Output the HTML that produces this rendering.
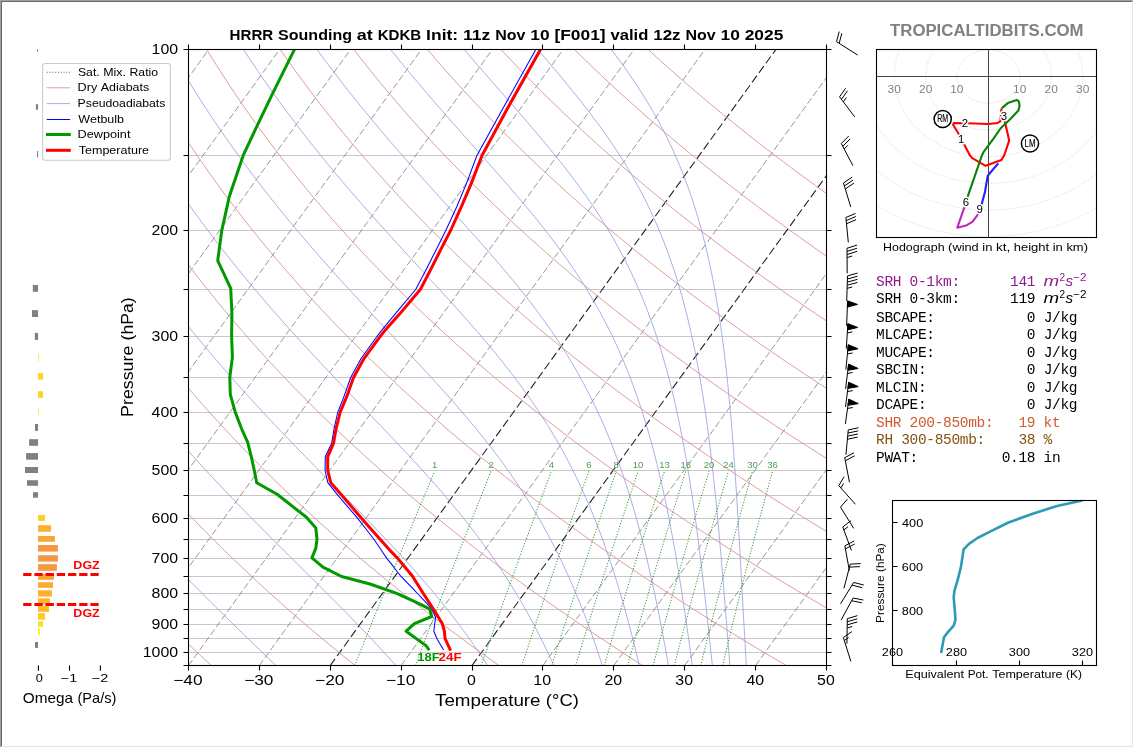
<!DOCTYPE html>
<html><head><meta charset="utf-8"><title>HRRR Sounding at KDKB</title>
<style>
html,body{margin:0;padding:0;background:#fff;overflow:hidden}
svg{display:block;will-change:transform;font-family:"Liberation Sans",sans-serif}
text{white-space:pre}
</style></head><body>
<svg width="1134" height="748" viewBox="0 0 1134 748">
<rect x="0" y="0" width="1134" height="748" fill="#fff"/>
<defs><clipPath id="cp"><rect x="188.5" y="49.5" width="638" height="616"/></clipPath>
<clipPath id="hc"><rect x="876.5" y="49.5" width="220" height="188"/></clipPath>
<clipPath id="tc"><rect x="892.5" y="500.5" width="204" height="165"/></clipPath></defs>
<g clip-path="url(#cp)" fill="none">
<path d="M188.5 155.5H826.5M188.5 230.5H826.5M188.5 289.5H826.5M188.5 336.5H826.5M188.5 377.5H826.5M188.5 412.5H826.5M188.5 443.5H826.5M188.5 470.5H826.5M188.5 495.5H826.5M188.5 518.5H826.5M188.5 539.5H826.5M188.5 558.5H826.5M188.5 576.5H826.5M188.5 593.5H826.5M188.5 609.5H826.5M188.5 624.5H826.5M188.5 638.5H826.5M188.5 652.5H826.5" stroke="#c8c8c8" stroke-width="1"/>
<path d="M-378.71 665.6L66.9 49.6M-307.82 665.6L137.79 49.6M-236.93 665.6L208.68 49.6M-166.04 665.6L279.57 49.6M-95.16 665.6L350.46 49.6M-24.27 665.6L421.35 49.6M46.62 665.6L492.24 49.6M117.51 665.6L563.13 49.6M188.4 665.6L634.01 49.6M259.29 665.6L704.9 49.6M401.07 665.6L846.68 49.6M542.84 665.6L988.46 49.6M613.73 665.6L1059.35 49.6M684.62 665.6L1130.24 49.6M755.51 665.6L1201.13 49.6M826.4 665.6L1272.01 49.6" stroke="#7c7c7c" stroke-width="0.8" stroke-dasharray="6.7 2.8"/>
<path d="M330.18 665.6L775.79 49.6M471.96 665.6L917.57 49.6" stroke="#222" stroke-width="1.1" stroke-dasharray="8.3 3.5"/>
<path d="M211.53 665.6 L200.17 655.16 L189.01 644.72 L178.07 634.28 L167.33 623.84 L156.8 613.4 L146.48 602.96 L136.36 592.52 L126.44 582.07 L116.71 571.63 L107.18 561.19 L97.84 550.75 L88.69 540.31 L79.74 529.87 L70.96 519.43 L62.38 508.99 L53.97 498.55 L45.75 488.11 L37.7 477.67 L29.83 467.23 L22.13 456.79 L14.61 446.35 L7.25 435.91 L0.07 425.46 L-6.95 415.02 L-13.81 404.58 L-20.5 394.14 L-27.03 383.7 L-33.41 373.26 L-39.62 362.82 L-45.68 352.38 L-51.59 341.94 L-57.34 331.5 L-62.95 321.06 L-68.4 310.62 L-73.71 300.18 L-78.87 289.74 L-83.89 279.29 L-88.77 268.85 L-93.51 258.41 L-98.11 247.97 L-102.57 237.53 L-106.9 227.09 L-111.09 216.65 L-115.15 206.21 L-119.07 195.77 L-122.87 185.33 L-126.54 174.89 L-130.09 164.45 L-133.51 154.01 L-136.8 143.57 L-139.97 133.13 L-143.02 122.68 L-145.95 112.24 L-148.77 101.8 L-151.46 91.36 L-154.04 80.92 L-156.51 70.48 L-158.86 60.04 L-161.1 49.6M355.3 665.6 L342.31 655.16 L329.55 644.72 L317.02 634.28 L304.71 623.84 L292.63 613.4 L280.77 602.96 L269.14 592.52 L257.71 582.07 L246.51 571.63 L235.51 561.19 L224.72 550.75 L214.15 540.31 L203.77 529.87 L193.6 519.43 L183.63 508.99 L173.85 498.55 L164.27 488.11 L154.89 477.67 L145.69 467.23 L136.69 456.79 L127.87 446.35 L119.24 435.91 L110.79 425.46 L102.52 415.02 L94.43 404.58 L86.51 394.14 L78.77 383.7 L71.2 373.26 L63.81 362.82 L56.58 352.38 L49.52 341.94 L42.62 331.5 L35.89 321.06 L29.32 310.62 L22.91 300.18 L16.65 289.74 L10.56 279.29 L4.61 268.85 L-1.18 258.41 L-6.82 247.97 L-12.31 237.53 L-17.66 227.09 L-22.86 216.65 L-27.91 206.21 L-32.83 195.77 L-37.6 185.33 L-42.23 174.89 L-46.73 164.45 L-51.09 154.01 L-55.31 143.57 L-59.41 133.13 L-63.37 122.68 L-67.2 112.24 L-70.9 101.8 L-74.47 91.36 L-77.92 80.92 L-81.25 70.48 L-84.45 60.04 L-87.53 49.6M499.06 665.6 L484.44 655.16 L470.08 644.72 L455.96 634.28 L442.09 623.84 L428.46 613.4 L415.07 602.96 L401.91 592.52 L388.99 582.07 L376.3 571.63 L363.84 561.19 L351.61 550.75 L339.6 540.31 L327.8 529.87 L316.23 519.43 L304.87 508.99 L293.73 498.55 L282.8 488.11 L272.08 477.67 L261.56 467.23 L251.25 456.79 L241.13 446.35 L231.22 435.91 L221.51 425.46 L211.99 415.02 L202.66 404.58 L193.52 394.14 L184.58 383.7 L175.81 373.26 L167.24 362.82 L158.84 352.38 L150.63 341.94 L142.59 331.5 L134.73 321.06 L127.04 310.62 L119.53 300.18 L112.18 289.74 L105 279.29 L97.99 268.85 L91.15 258.41 L84.46 247.97 L77.94 237.53 L71.58 227.09 L65.37 216.65 L59.32 206.21 L53.42 195.77 L47.67 185.33 L42.08 174.89 L36.63 164.45 L31.33 154.01 L26.17 143.57 L21.16 133.13 L16.29 122.68 L11.56 112.24 L6.97 101.8 L2.52 91.36 L-1.8 80.92 L-5.99 70.48 L-10.04 60.04 L-13.96 49.6M642.82 665.6 L626.58 655.16 L610.61 644.72 L594.91 634.28 L579.47 623.84 L564.29 613.4 L549.36 602.96 L534.69 592.52 L520.27 582.07 L506.1 571.63 L492.17 561.19 L478.49 550.75 L465.05 540.31 L451.84 529.87 L438.87 519.43 L426.12 508.99 L413.61 498.55 L401.33 488.11 L389.26 477.67 L377.42 467.23 L365.8 456.79 L354.4 446.35 L343.21 435.91 L332.23 425.46 L321.46 415.02 L310.9 404.58 L300.54 394.14 L290.38 383.7 L280.42 373.26 L270.67 362.82 L261.1 352.38 L251.73 341.94 L242.55 331.5 L233.56 321.06 L224.76 310.62 L216.14 300.18 L207.71 289.74 L199.45 279.29 L191.37 268.85 L183.47 258.41 L175.75 247.97 L168.19 237.53 L160.81 227.09 L153.6 216.65 L146.55 206.21 L139.67 195.77 L132.95 185.33 L126.39 174.89 L119.99 164.45 L113.75 154.01 L107.66 143.57 L101.73 133.13 L95.95 122.68 L90.32 112.24 L84.84 101.8 L79.51 91.36 L74.32 80.92 L69.27 70.48 L64.37 60.04 L59.61 49.6M786.58 665.6 L768.72 655.16 L751.15 644.72 L733.86 634.28 L716.85 623.84 L700.12 613.4 L683.66 602.96 L667.47 592.52 L651.55 582.07 L635.9 571.63 L620.51 561.19 L605.37 550.75 L590.5 540.31 L575.87 529.87 L561.5 519.43 L547.37 508.99 L533.49 498.55 L519.85 488.11 L506.45 477.67 L493.29 467.23 L480.36 456.79 L467.66 446.35 L455.19 435.91 L442.95 425.46 L430.93 415.02 L419.13 404.58 L407.55 394.14 L396.19 383.7 L385.03 373.26 L374.1 362.82 L363.36 352.38 L352.84 341.94 L342.52 331.5 L332.4 321.06 L322.48 310.62 L312.76 300.18 L303.23 289.74 L293.9 279.29 L284.76 268.85 L275.8 258.41 L267.03 247.97 L258.45 237.53 L250.05 227.09 L241.82 216.65 L233.78 206.21 L225.91 195.77 L218.22 185.33 L210.7 174.89 L203.35 164.45 L196.16 154.01 L189.15 143.57 L182.3 133.13 L175.61 122.68 L169.08 112.24 L162.71 101.8 L156.5 91.36 L150.44 80.92 L144.53 70.48 L138.78 60.04 L133.18 49.6M930.35 665.6 L910.86 655.16 L891.68 644.72 L872.81 634.28 L854.23 623.84 L835.94 613.4 L817.95 602.96 L800.25 592.52 L782.83 582.07 L765.69 571.63 L748.84 561.19 L732.26 550.75 L715.95 540.31 L699.91 529.87 L684.13 519.43 L668.62 508.99 L653.37 498.55 L638.38 488.11 L623.64 477.67 L609.16 467.23 L594.92 456.79 L580.93 446.35 L567.18 435.91 L553.67 425.46 L540.4 415.02 L527.37 404.58 L514.56 394.14 L501.99 383.7 L489.64 373.26 L477.52 362.82 L465.63 352.38 L453.95 341.94 L442.48 331.5 L431.24 321.06 L420.2 310.62 L409.38 300.18 L398.76 289.74 L388.35 279.29 L378.14 268.85 L368.13 258.41 L358.32 247.97 L348.7 237.53 L339.28 227.09 L330.05 216.65 L321.01 206.21 L312.16 195.77 L303.49 185.33 L295.01 174.89 L286.71 164.45 L278.58 154.01 L270.63 143.57 L262.86 133.13 L255.26 122.68 L247.84 112.24 L240.58 101.8 L233.48 91.36 L226.56 80.92 L219.8 70.48 L213.19 60.04 L206.75 49.6M1074.11 665.6 L1053 655.16 L1032.22 644.72 L1011.75 634.28 L991.61 623.84 L971.77 613.4 L952.25 602.96 L933.03 592.52 L914.11 582.07 L895.49 571.63 L877.17 561.19 L859.14 550.75 L841.4 540.31 L823.94 529.87 L806.77 519.43 L789.87 508.99 L773.25 498.55 L756.91 488.11 L740.83 477.67 L725.02 467.23 L709.47 456.79 L694.19 446.35 L679.16 435.91 L664.39 425.46 L649.87 415.02 L635.6 404.58 L621.58 394.14 L607.79 383.7 L594.25 373.26 L580.95 362.82 L567.89 352.38 L555.05 341.94 L542.45 331.5 L530.07 321.06 L517.92 310.62 L505.99 300.18 L494.29 289.74 L482.8 279.29 L471.52 268.85 L460.46 258.41 L449.6 247.97 L438.96 237.53 L428.52 227.09 L418.28 216.65 L408.24 206.21 L398.41 195.77 L388.77 185.33 L379.32 174.89 L370.06 164.45 L361 154.01 L352.12 143.57 L343.43 133.13 L334.92 122.68 L326.59 112.24 L318.45 101.8 L310.47 91.36 L302.68 80.92 L295.06 70.48 L287.61 60.04 L280.32 49.6M1217.87 665.6 L1195.14 655.16 L1172.75 644.72 L1150.7 634.28 L1128.99 623.84 L1107.6 613.4 L1086.54 602.96 L1065.81 592.52 L1045.39 582.07 L1025.29 571.63 L1005.5 561.19 L986.02 550.75 L966.85 540.31 L947.97 529.87 L929.4 519.43 L911.12 508.99 L893.13 498.55 L875.43 488.11 L858.02 477.67 L840.89 467.23 L824.03 456.79 L807.45 446.35 L791.15 435.91 L775.11 425.46 L759.34 415.02 L743.83 404.58 L728.59 394.14 L713.6 383.7 L698.86 373.26 L684.38 362.82 L670.15 352.38 L656.16 341.94 L642.42 331.5 L628.91 321.06 L615.64 310.62 L602.61 300.18 L589.81 289.74 L577.24 279.29 L564.9 268.85 L552.78 258.41 L540.89 247.97 L529.21 237.53 L517.75 227.09 L506.51 216.65 L495.48 206.21 L484.65 195.77 L474.04 185.33 L463.63 174.89 L453.42 164.45 L443.42 154.01 L433.61 143.57 L424 133.13 L414.58 122.68 L405.35 112.24 L396.31 101.8 L387.46 91.36 L378.8 80.92 L370.32 70.48 L362.02 60.04 L353.9 49.6M1361.63 665.6 L1337.28 655.16 L1313.29 644.72 L1289.65 634.28 L1266.37 623.84 L1243.43 613.4 L1220.84 602.96 L1198.58 592.52 L1176.67 582.07 L1155.09 571.63 L1133.83 561.19 L1112.9 550.75 L1092.3 540.31 L1072.01 529.87 L1052.03 519.43 L1032.37 508.99 L1013.01 498.55 L993.96 488.11 L975.21 477.67 L956.75 467.23 L938.59 456.79 L920.72 446.35 L903.13 435.91 L885.83 425.46 L868.81 415.02 L852.07 404.58 L835.6 394.14 L819.4 383.7 L803.48 373.26 L787.81 362.82 L772.41 352.38 L757.27 341.94 L742.38 331.5 L727.75 321.06 L713.36 310.62 L699.23 300.18 L685.34 289.74 L671.69 279.29 L658.28 268.85 L645.11 258.41 L632.17 247.97 L619.47 237.53 L606.99 227.09 L594.74 216.65 L582.71 206.21 L570.9 195.77 L559.31 185.33 L547.94 174.89 L536.78 164.45 L525.83 154.01 L515.1 143.57 L504.56 133.13 L494.24 122.68 L484.11 112.24 L474.18 101.8 L464.45 91.36 L454.92 80.92 L445.58 70.48 L436.43 60.04 L427.47 49.6M1505.4 665.6 L1479.42 655.16 L1453.82 644.72 L1428.6 634.28 L1403.74 623.84 L1379.26 613.4 L1355.13 602.96 L1331.36 592.52 L1307.95 582.07 L1284.88 571.63 L1262.16 561.19 L1239.79 550.75 L1217.75 540.31 L1196.04 529.87 L1174.67 519.43 L1153.62 508.99 L1132.89 498.55 L1112.49 488.11 L1092.39 477.67 L1072.62 467.23 L1053.15 456.79 L1033.98 446.35 L1015.12 435.91 L996.55 425.46 L978.28 415.02 L960.3 404.58 L942.61 394.14 L925.21 383.7 L908.09 373.26 L891.24 362.82 L874.67 352.38 L858.37 341.94 L842.35 331.5 L826.58 321.06 L811.09 310.62 L795.85 300.18 L780.87 289.74 L766.14 279.29 L751.66 268.85 L737.44 258.41 L723.46 247.97 L709.72 237.53 L696.22 227.09 L682.96 216.65 L669.94 206.21 L657.15 195.77 L644.59 185.33 L632.25 174.89 L620.14 164.45 L608.25 154.01 L596.58 143.57 L585.13 133.13 L573.89 122.68 L562.87 112.24 L552.05 101.8 L541.44 91.36 L531.04 80.92 L520.84 70.48 L510.84 60.04 L501.04 49.6M1649.16 665.6 L1621.56 655.16 L1594.36 644.72 L1567.55 634.28 L1541.12 623.84 L1515.08 613.4 L1489.43 602.96 L1464.14 592.52 L1439.23 582.07 L1414.68 571.63 L1390.5 561.19 L1366.67 550.75 L1343.2 540.31 L1320.08 529.87 L1297.3 519.43 L1274.87 508.99 L1252.77 498.55 L1231.01 488.11 L1209.58 477.67 L1188.48 467.23 L1167.7 456.79 L1147.25 446.35 L1127.1 435.91 L1107.27 425.46 L1087.75 415.02 L1068.54 404.58 L1049.63 394.14 L1031.01 383.7 L1012.7 373.26 L994.67 362.82 L976.93 352.38 L959.48 341.94 L942.31 331.5 L925.42 321.06 L908.81 310.62 L892.46 300.18 L876.39 289.74 L860.59 279.29 L845.05 268.85 L829.77 258.41 L814.74 247.97 L799.98 237.53 L785.46 227.09 L771.19 216.65 L757.17 206.21 L743.4 195.77 L729.86 185.33 L716.56 174.89 L703.5 164.45 L690.67 154.01 L678.07 143.57 L665.7 133.13 L653.55 122.68 L641.63 112.24 L629.92 101.8 L618.43 91.36 L607.16 80.92 L596.1 70.48 L585.25 60.04 L574.61 49.6M1792.92 665.6 L1763.7 655.16 L1734.89 644.72 L1706.49 634.28 L1678.5 623.84 L1650.91 613.4 L1623.72 602.96 L1596.92 592.52 L1570.51 582.07 L1544.48 571.63 L1518.83 561.19 L1493.55 550.75 L1468.65 540.31 L1444.11 529.87 L1419.93 519.43 L1396.12 508.99 L1372.65 498.55 L1349.54 488.11 L1326.77 477.67 L1304.35 467.23 L1282.26 456.79 L1260.51 446.35 L1239.09 435.91 L1217.99 425.46 L1197.22 415.02 L1176.77 404.58 L1156.64 394.14 L1136.82 383.7 L1117.31 373.26 L1098.1 362.82 L1079.19 352.38 L1060.59 341.94 L1042.28 331.5 L1024.26 321.06 L1006.53 310.62 L989.08 300.18 L971.92 289.74 L955.04 279.29 L938.43 268.85 L922.09 258.41 L906.03 247.97 L890.23 237.53 L874.69 227.09 L859.42 216.65 L844.4 206.21 L829.64 195.77 L815.13 185.33 L800.87 174.89 L786.86 164.45 L773.09 154.01 L759.56 143.57 L746.26 133.13 L733.21 122.68 L720.38 112.24 L707.79 101.8 L695.42 91.36 L683.28 80.92 L671.36 70.48 L659.66 60.04 L648.18 49.6" stroke="#db9292" stroke-width="0.9"/>
<path d="M276.04 665.6 L265.2 655.16 L254.37 644.72 L243.57 634.28 L232.83 623.84 L222.17 613.4 L211.6 602.96 L201.14 592.52 L190.81 582.07 L180.62 571.63 L170.57 561.19 L160.68 550.75 L150.96 540.31 L141.4 529.87 L132.01 519.43 L122.8 508.99 L113.76 498.55 L104.89 488.11 L96.21 477.67 L87.7 467.23 L79.36 456.79 L71.2 446.35 L63.22 435.91 L55.41 425.46 L47.77 415.02 L40.3 404.58 L33 394.14 L25.86 383.7 L18.9 373.26 L12.09 362.82 L5.45 352.38 L-1.03 341.94 L-7.36 331.5 L-13.53 321.06 L-19.54 310.62 L-25.4 300.18 L-31.11 289.74 L-36.67 279.29 L-42.08 268.85 L-47.34 258.41 L-52.46 247.97 L-57.44 237.53 L-62.28 227.09 L-66.97 216.65 L-71.53 206.21 L-75.95 195.77 L-80.24 185.33 L-84.39 174.89 L-88.41 164.45 L-92.3 154.01 L-96.06 143.57 L-99.69 133.13 L-103.19 122.68 L-106.58 112.24 L-109.83 101.8 L-112.97 91.36 L-115.98 80.92 L-118.88 70.48 L-121.66 60.04 L-124.32 49.6M395.97 665.6 L386.56 655.16 L376.92 644.72 L367.08 634.28 L357.05 623.84 L346.86 613.4 L336.54 602.96 L326.13 592.52 L315.64 582.07 L305.11 571.63 L294.57 561.19 L284.05 550.75 L273.57 540.31 L263.16 529.87 L252.83 519.43 L242.61 508.99 L232.5 498.55 L222.53 488.11 L212.7 477.67 L203.03 467.23 L193.51 456.79 L184.15 446.35 L174.96 435.91 L165.94 425.46 L157.1 415.02 L148.43 404.58 L139.93 394.14 L131.61 383.7 L123.46 373.26 L115.49 362.82 L107.69 352.38 L100.06 341.94 L92.59 331.5 L85.3 321.06 L78.17 310.62 L71.21 300.18 L64.41 289.74 L57.78 279.29 L51.3 268.85 L44.98 258.41 L38.82 247.97 L32.81 237.53 L26.96 227.09 L21.25 216.65 L15.7 206.21 L10.3 195.77 L5.04 185.33 L-0.08 174.89 L-5.05 164.45 L-9.88 154.01 L-14.57 143.57 L-19.12 133.13 L-23.54 122.68 L-27.82 112.24 L-31.96 101.8 L-35.98 91.36 L-39.86 80.92 L-43.62 70.48 L-47.25 60.04 L-50.75 49.6M487.73 665.6 L480.83 655.16 L473.65 644.72 L466.2 634.28 L458.46 623.84 L450.44 613.4 L442.13 602.96 L433.55 592.52 L424.7 582.07 L415.59 571.63 L406.24 561.19 L396.68 550.75 L386.92 540.31 L377 529.87 L366.95 519.43 L356.79 508.99 L346.57 498.55 L336.3 488.11 L326.03 477.67 L315.77 467.23 L305.57 456.79 L295.42 446.35 L285.37 435.91 L275.43 425.46 L265.6 415.02 L255.91 404.58 L246.36 394.14 L236.97 383.7 L227.73 373.26 L218.65 362.82 L209.75 352.38 L201.01 341.94 L192.45 331.5 L184.05 321.06 L175.83 310.62 L167.78 300.18 L159.91 289.74 L152.2 279.29 L144.66 268.85 L137.3 258.41 L130.1 247.97 L123.06 237.53 L116.19 227.09 L109.48 216.65 L102.93 206.21 L96.54 195.77 L90.31 185.33 L84.23 174.89 L78.31 164.45 L72.54 154.01 L66.92 143.57 L61.44 133.13 L56.12 122.68 L50.94 112.24 L45.9 101.8 L41.01 91.36 L36.26 80.92 L31.64 70.48 L27.17 60.04 L22.82 49.6M553.89 665.6 L549.08 655.16 L544.06 644.72 L538.84 634.28 L533.4 623.84 L527.73 613.4 L521.81 602.96 L515.63 592.52 L509.19 582.07 L502.47 571.63 L495.46 561.19 L488.16 550.75 L480.56 540.31 L472.67 529.87 L464.49 519.43 L456.02 508.99 L447.29 498.55 L438.29 488.11 L429.07 477.67 L419.63 467.23 L410.02 456.79 L400.25 446.35 L390.37 435.91 L380.4 425.46 L370.39 415.02 L360.35 404.58 L350.32 394.14 L340.33 383.7 L330.4 373.26 L320.56 362.82 L310.81 352.38 L301.18 341.94 L291.69 331.5 L282.33 321.06 L273.12 310.62 L264.07 300.18 L255.19 289.74 L246.46 279.29 L237.91 268.85 L229.52 258.41 L221.3 247.97 L213.26 237.53 L205.38 227.09 L197.68 216.65 L190.14 206.21 L182.77 195.77 L175.57 185.33 L168.53 174.89 L161.66 164.45 L154.95 154.01 L148.4 143.57 L142.01 133.13 L135.78 122.68 L129.7 112.24 L123.77 101.8 L118 91.36 L112.38 80.92 L106.9 70.48 L101.58 60.04 L96.4 49.6M602.37 665.6 L598.96 655.16 L595.42 644.72 L591.76 634.28 L587.95 623.84 L583.99 613.4 L579.86 602.96 L575.56 592.52 L571.07 582.07 L566.39 571.63 L561.49 561.19 L556.36 550.75 L550.99 540.31 L545.37 529.87 L539.49 519.43 L533.33 508.99 L526.89 498.55 L520.15 488.11 L513.1 477.67 L505.76 467.23 L498.11 456.79 L490.15 446.35 L481.91 435.91 L473.39 425.46 L464.6 415.02 L455.58 404.58 L446.35 394.14 L436.93 383.7 L427.36 373.26 L417.68 362.82 L407.92 352.38 L398.11 341.94 L388.29 331.5 L378.48 321.06 L368.71 310.62 L359 300.18 L349.39 289.74 L339.88 279.29 L330.49 268.85 L321.23 258.41 L312.12 247.97 L303.15 237.53 L294.35 227.09 L285.7 216.65 L277.22 206.21 L268.91 195.77 L260.76 185.33 L252.78 174.89 L244.98 164.45 L237.34 154.01 L229.87 143.57 L222.56 133.13 L215.42 122.68 L208.45 112.24 L201.64 101.8 L194.99 91.36 L188.5 80.92 L182.16 70.48 L175.99 60.04 L169.97 49.6M639.29 665.6 L636.8 655.16 L634.24 644.72 L631.6 634.28 L628.88 623.84 L626.05 613.4 L623.13 602.96 L620.1 592.52 L616.95 582.07 L613.67 571.63 L610.25 561.19 L606.68 550.75 L602.95 540.31 L599.05 529.87 L594.96 519.43 L590.68 508.99 L586.19 498.55 L581.47 488.11 L576.52 477.67 L571.31 467.23 L565.84 456.79 L560.1 446.35 L554.06 435.91 L547.73 425.46 L541.09 415.02 L534.14 404.58 L526.87 394.14 L519.3 383.7 L511.42 373.26 L503.24 362.82 L494.79 352.38 L486.08 341.94 L477.14 331.5 L468 321.06 L458.69 310.62 L449.25 300.18 L439.71 289.74 L430.11 279.29 L420.48 268.85 L410.85 258.41 L401.26 247.97 L391.72 237.53 L382.26 227.09 L372.91 216.65 L363.66 206.21 L354.55 195.77 L345.57 185.33 L336.75 174.89 L328.07 164.45 L319.56 154.01 L311.21 143.57 L303.02 133.13 L295.01 122.68 L287.15 112.24 L279.47 101.8 L271.95 91.36 L264.6 80.92 L257.42 70.48 L250.4 60.04 L243.54 49.6M668.47 665.6 L666.61 655.16 L664.71 644.72 L662.77 634.28 L660.77 623.84 L658.71 613.4 L656.6 602.96 L654.42 592.52 L652.16 582.07 L649.82 571.63 L647.4 561.19 L644.88 550.75 L642.26 540.31 L639.53 529.87 L636.68 519.43 L633.7 508.99 L630.59 498.55 L627.32 488.11 L623.89 477.67 L620.29 467.23 L616.51 456.79 L612.52 446.35 L608.33 435.91 L603.9 425.46 L599.24 415.02 L594.33 404.58 L589.14 394.14 L583.68 383.7 L577.92 373.26 L571.86 362.82 L565.48 352.38 L558.79 341.94 L551.77 331.5 L544.43 321.06 L536.78 310.62 L528.83 300.18 L520.59 289.74 L512.08 279.29 L503.34 268.85 L494.39 258.41 L485.27 247.97 L476.02 237.53 L466.66 227.09 L457.23 216.65 L447.78 206.21 L438.33 195.77 L428.91 185.33 L419.55 174.89 L410.27 164.45 L401.09 154.01 L392.03 143.57 L383.09 133.13 L374.3 122.68 L365.65 112.24 L357.15 101.8 L348.82 91.36 L340.64 80.92 L332.63 70.48 L324.79 60.04 L317.11 49.6M692.28 665.6 L690.87 655.16 L689.44 644.72 L687.98 634.28 L686.49 623.84 L684.97 613.4 L683.42 602.96 L681.83 592.52 L680.19 582.07 L678.5 571.63 L676.77 561.19 L674.97 550.75 L673.11 540.31 L671.18 529.87 L669.17 519.43 L667.09 508.99 L664.91 498.55 L662.63 488.11 L660.26 477.67 L657.76 467.23 L655.15 456.79 L652.4 446.35 L649.51 435.91 L646.47 425.46 L643.26 415.02 L639.88 404.58 L636.3 394.14 L632.52 383.7 L628.53 373.26 L624.3 362.82 L619.82 352.38 L615.09 341.94 L610.07 331.5 L604.77 321.06 L599.17 310.62 L593.25 300.18 L587.01 289.74 L580.45 279.29 L573.55 268.85 L566.33 258.41 L558.79 247.97 L550.94 237.53 L542.81 227.09 L534.41 216.65 L525.78 206.21 L516.95 195.77 L507.95 185.33 L498.83 174.89 L489.61 164.45 L480.34 154.01 L471.04 143.57 L461.76 133.13 L452.52 122.68 L443.35 112.24 L434.27 101.8 L425.29 91.36 L416.43 80.92 L407.7 70.48 L399.12 60.04 L390.68 49.6M712.33 665.6 L711.24 655.16 L710.15 644.72 L709.05 634.28 L707.94 623.84 L706.81 613.4 L705.66 602.96 L704.5 592.52 L703.31 582.07 L702.09 571.63 L700.84 561.19 L699.56 550.75 L698.24 540.31 L696.88 529.87 L695.47 519.43 L694 508.99 L692.49 498.55 L690.91 488.11 L689.26 477.67 L687.55 467.23 L685.75 456.79 L683.86 446.35 L681.89 435.91 L679.81 425.46 L677.62 415.02 L675.31 404.58 L672.88 394.14 L670.3 383.7 L667.58 373.26 L664.7 362.82 L661.65 352.38 L658.41 341.94 L654.97 331.5 L651.32 321.06 L647.45 310.62 L643.33 300.18 L638.95 289.74 L634.3 279.29 L629.37 268.85 L624.13 258.41 L618.58 247.97 L612.71 237.53 L606.51 227.09 L599.97 216.65 L593.09 206.21 L585.89 195.77 L578.36 185.33 L570.53 174.89 L562.42 164.45 L554.06 154.01 L545.48 143.57 L536.71 133.13 L527.79 122.68 L518.76 112.24 L509.66 101.8 L500.52 91.36 L491.38 80.92 L482.28 70.48 L473.22 60.04 L464.25 49.6M729.89 665.6 L729.06 655.16 L728.24 644.72 L727.41 634.28 L726.58 623.84 L725.76 613.4 L724.92 602.96 L724.08 592.52 L723.23 582.07 L722.36 571.63 L721.48 561.19 L720.59 550.75 L719.67 540.31 L718.73 529.87 L717.77 519.43 L716.77 508.99 L715.74 498.55 L714.67 488.11 L713.56 477.67 L712.41 467.23 L711.21 456.79 L709.95 446.35 L708.63 435.91 L707.25 425.46 L705.79 415.02 L704.26 404.58 L702.65 394.14 L700.94 383.7 L699.14 373.26 L697.23 362.82 L695.2 352.38 L693.05 341.94 L690.76 331.5 L688.33 321.06 L685.75 310.62 L682.99 300.18 L680.06 289.74 L676.93 279.29 L673.59 268.85 L670.03 258.41 L666.23 247.97 L662.18 237.53 L657.85 227.09 L653.24 216.65 L648.34 206.21 L643.11 195.77 L637.57 185.33 L631.69 174.89 L625.46 164.45 L618.9 154.01 L612 143.57 L604.76 133.13 L597.21 122.68 L589.36 112.24 L581.24 101.8 L572.89 91.36 L564.33 80.92 L555.61 70.48 L546.76 60.04 L537.82 49.6M746.33 665.6 L745.72 655.16 L745.11 644.72 L744.51 634.28 L743.93 623.84 L743.34 613.4 L742.76 602.96 L742.19 592.52 L741.61 582.07 L741.04 571.63 L740.46 561.19 L739.87 550.75 L739.28 540.31 L738.68 529.87 L738.07 519.43 L737.44 508.99 L736.8 498.55 L736.14 488.11 L735.45 477.67 L734.74 467.23 L734 456.79 L733.23 446.35 L732.43 435.91 L731.58 425.46 L730.7 415.02 L729.76 404.58 L728.77 394.14 L727.73 383.7 L726.62 373.26 L725.45 362.82 L724.2 352.38 L722.87 341.94 L721.45 331.5 L719.95 321.06 L718.33 310.62 L716.61 300.18 L714.77 289.74 L712.81 279.29 L710.7 268.85 L708.44 258.41 L706.03 247.97 L703.43 237.53 L700.65 227.09 L697.67 216.65 L694.48 206.21 L691.05 195.77 L687.38 185.33 L683.44 174.89 L679.23 164.45 L674.72 154.01 L669.9 143.57 L664.75 133.13 L659.28 122.68 L653.45 112.24 L647.28 101.8 L640.77 91.36 L633.9 80.92 L626.71 70.48 L619.2 60.04 L611.4 49.6" stroke="#9e9ee4" stroke-width="0.85"/>
<path d="M354.66 665.6 L370.9 625.22 L390.37 577.45 L414.59 519 L434.67 471.23M415.57 665.6 L430.81 625.22 L449.13 577.45 L471.99 519 L491 471.23M481.11 665.6 L495.24 625.22 L512.28 577.45 L533.62 519 L551.44 471.23M521.76 665.6 L535.17 625.22 L551.4 577.45 L571.77 519 L588.82 471.23M551.67 665.6 L564.55 625.22 L580.17 577.45 L599.81 519 L616.29 471.23M575.5 665.6 L587.95 625.22 L603.07 577.45 L622.13 519 L638.14 471.23M604.22 665.6 L616.14 625.22 L630.65 577.45 L649 519 L664.45 471.23M627.49 665.6 L638.98 625.22 L652.99 577.45 L670.75 519 L685.74 471.23M653.01 665.6 L664.01 625.22 L677.47 577.45 L694.58 519 L709.06 471.23M674.24 665.6 L684.84 625.22 L697.84 577.45 L714.4 519 L728.44 471.23M700.68 665.6 L710.77 625.22 L723.18 577.45 L739.05 519 L752.55 471.23M722.62 665.6 L732.28 625.22 L744.2 577.45 L759.49 519 L772.53 471.23" stroke="#2f8f2f" stroke-width="1.05" stroke-dasharray="1.05 1.75"/>
<path d="M535.8 49.4 L503.2 107.9 L476.9 155.5 L466.6 183.1 L457 206.2 L445.8 230.5 L436.6 248.9 L425.8 270.2 L415.7 289.5 L394.6 314.6 L380.6 331.6 L376.4 337.3 L361.2 358.3 L350.6 377.8 L344.2 395.9 L337.7 412.5 L334.1 428.6 L331.6 443.4 L325.3 456.4 L325.1 470.5 L327.8 482.6 L338.2 495.6 L357.7 518.4 L366 529 L373.9 539.3 L381.2 550 L386.8 558.4 L393.1 566.2 L400.8 576.2 L414.4 590.2 L417.4 593.5 L430.4 607.1 L435.6 617.1 L433.8 631.2 L437.1 639 L443.6 650.1" stroke="#0000ff" stroke-width="1.05" stroke-linejoin="round"/>
<path d="M294.5 49.4 L272.8 93.2 L256.7 126.6 L243.2 155.4 L229.4 196.2 L221.8 230.4 L217.7 260.6 L230.7 288.3 L231.9 312.7 L231.6 336.3 L232.4 357.1 L229.8 377.2 L230.3 394.4 L235.3 412.4 L241.5 428.5 L247.8 442.7 L251.5 457.6 L254.4 471 L256.7 482.7 L277.1 494.2 L306.4 517.3 L315.8 528 L317 539 L315.8 548.4 L311.9 557.9 L322.9 567.1 L341.6 576.5 L370 584 L396.7 593.4 L415.3 601.8 L429.6 608.9 L431.7 616.5 L414.4 623.6 L406.1 631.2 L426 645.6 L429.3 650.1" stroke="#009900" stroke-width="3" stroke-linejoin="round"/>
<path d="M540.5 49.4 L507.7 107.9 L482 155.5 L471.4 183.1 L461.6 206.2 L450.6 230.5 L441.1 248.9 L430.4 270.2 L420.3 289.5 L399.1 314.6 L384 331.6 L379.5 337.3 L364.1 358.3 L353.4 377.8 L347 395.9 L340.1 412.5 L336.1 428.6 L333.5 443.4 L327.7 456.7 L327.7 470.5 L330.8 482.7 L342 495.6 L361.7 518.4 L370.9 528.9 L380.1 539.3 L389.4 549.7 L397.7 558.4 L412.5 576.3 L423.3 593.5 L433.7 609.6 L442.1 623.2 L444.4 631.2 L445 638.4 L450.6 650.6" stroke="#ff0000" stroke-width="3" stroke-linejoin="round"/>
</g>
<text x="432.02" y="467.9" font-size="8.5" fill="#4a9f4a" textLength="5.3" lengthAdjust="spacingAndGlyphs">1</text>
<text x="488.35" y="467.9" font-size="8.5" fill="#4a9f4a" textLength="5.3" lengthAdjust="spacingAndGlyphs">2</text>
<text x="548.79" y="467.9" font-size="8.5" fill="#4a9f4a" textLength="5.3" lengthAdjust="spacingAndGlyphs">4</text>
<text x="586.17" y="467.9" font-size="8.5" fill="#4a9f4a" textLength="5.3" lengthAdjust="spacingAndGlyphs">6</text>
<text x="613.64" y="467.9" font-size="8.5" fill="#4a9f4a" textLength="5.3" lengthAdjust="spacingAndGlyphs">8</text>
<text x="632.84" y="467.9" font-size="8.5" fill="#4a9f4a" textLength="10.6" lengthAdjust="spacingAndGlyphs">10</text>
<text x="659.15" y="467.9" font-size="8.5" fill="#4a9f4a" textLength="10.6" lengthAdjust="spacingAndGlyphs">13</text>
<text x="680.44" y="467.9" font-size="8.5" fill="#4a9f4a" textLength="10.6" lengthAdjust="spacingAndGlyphs">16</text>
<text x="703.76" y="467.9" font-size="8.5" fill="#4a9f4a" textLength="10.6" lengthAdjust="spacingAndGlyphs">20</text>
<text x="723.14" y="467.9" font-size="8.5" fill="#4a9f4a" textLength="10.6" lengthAdjust="spacingAndGlyphs">24</text>
<text x="747.25" y="467.9" font-size="8.5" fill="#4a9f4a" textLength="10.6" lengthAdjust="spacingAndGlyphs">30</text>
<text x="767.23" y="467.9" font-size="8.5" fill="#4a9f4a" textLength="10.6" lengthAdjust="spacingAndGlyphs">36</text>
<text x="417.2" y="660.7" font-size="11.3" font-weight="bold" fill="#009900" textLength="22.5" lengthAdjust="spacingAndGlyphs">18F</text>
<text x="438.6" y="660.7" font-size="11.3" font-weight="bold" fill="#ff0000" textLength="23" lengthAdjust="spacingAndGlyphs">24F</text>
<path d="M188.5 665.5v5M188.5 49.5v-5M259.5 665.5v5M259.5 49.5v-5M330.5 665.5v5M330.5 49.5v-5M401.5 665.5v5M401.5 49.5v-5M472.5 665.5v5M472.5 49.5v-5M542.5 665.5v5M542.5 49.5v-5M613.5 665.5v5M613.5 49.5v-5M684.5 665.5v5M684.5 49.5v-5M755.5 665.5v5M755.5 49.5v-5M826.5 665.5v5M826.5 49.5v-5M188.5 49.5h-5M826.5 49.5h5M188.5 155.5h-5M826.5 155.5h5M188.5 230.5h-5M826.5 230.5h5M188.5 289.5h-5M826.5 289.5h5M188.5 336.5h-5M826.5 336.5h5M188.5 377.5h-5M826.5 377.5h5M188.5 412.5h-5M826.5 412.5h5M188.5 443.5h-5M826.5 443.5h5M188.5 470.5h-5M826.5 470.5h5M188.5 495.5h-5M826.5 495.5h5M188.5 518.5h-5M826.5 518.5h5M188.5 539.5h-5M826.5 539.5h5M188.5 558.5h-5M826.5 558.5h5M188.5 576.5h-5M826.5 576.5h5M188.5 593.5h-5M826.5 593.5h5M188.5 609.5h-5M826.5 609.5h5M188.5 624.5h-5M826.5 624.5h5M188.5 638.5h-5M826.5 638.5h5M188.5 652.5h-5M826.5 652.5h5M188.5 665.5h-5M826.5 665.5h5" stroke="#000" stroke-width="1.1" fill="none"/>
<rect x="188.5" y="49.5" width="638" height="616" fill="none" stroke="#000" stroke-width="1.1"/>
<text y="39.8" font-size="14.31" font-weight="bold" fill="#000"><tspan x="229.59" textLength="43.71" lengthAdjust="spacingAndGlyphs">HRRR</tspan> <tspan x="278.13" textLength="73.85" lengthAdjust="spacingAndGlyphs">Sounding</tspan> <tspan x="356.82" textLength="16.01" lengthAdjust="spacingAndGlyphs">at</tspan> <tspan x="377.67" textLength="43.64" lengthAdjust="spacingAndGlyphs">KDKB</tspan> <tspan x="426.14" textLength="32.01" lengthAdjust="spacingAndGlyphs">Init:</tspan> <tspan x="462.99" textLength="27.41" lengthAdjust="spacingAndGlyphs">11z</tspan> <tspan x="495.23" textLength="30.22" lengthAdjust="spacingAndGlyphs">Nov</tspan> <tspan x="530.29" textLength="19.33" lengthAdjust="spacingAndGlyphs">10</tspan> <tspan x="554.45" textLength="51.17" lengthAdjust="spacingAndGlyphs">[F001]</tspan> <tspan x="610.46" textLength="37.89" lengthAdjust="spacingAndGlyphs">valid</tspan> <tspan x="653.19" textLength="27.41" lengthAdjust="spacingAndGlyphs">12z</tspan> <tspan x="685.43" textLength="30.22" lengthAdjust="spacingAndGlyphs">Nov</tspan> <tspan x="720.49" textLength="19.33" lengthAdjust="spacingAndGlyphs">10</tspan> <tspan x="744.65" textLength="38.66" lengthAdjust="spacingAndGlyphs">2025</tspan></text>
<text y="35.8" font-size="15.74" font-weight="bold" fill="#808080"><tspan x="890.04" textLength="193.49" lengthAdjust="spacingAndGlyphs">TROPICALTIDBITS.COM</tspan></text>
<text y="705.6" font-size="17.17" fill="#000"><tspan x="435.02" textLength="105.56" lengthAdjust="spacingAndGlyphs">Temperature</tspan> <tspan x="545.88" textLength="32.98" lengthAdjust="spacingAndGlyphs">(°C)</tspan></text>
<text transform="translate(133.4 714) rotate(-90)" y="0" font-size="17.17" fill="#000"><tspan x="297.13" textLength="71.15" lengthAdjust="spacingAndGlyphs">Pressure</tspan> <tspan x="373.58" textLength="43.08" lengthAdjust="spacingAndGlyphs">(hPa)</tspan></text>
<text y="685.1" font-size="14.31" fill="#000"><tspan x="173.27" textLength="29.31" lengthAdjust="spacingAndGlyphs">−40</tspan></text>
<text y="685.1" font-size="14.31" fill="#000"><tspan x="244.16" textLength="29.31" lengthAdjust="spacingAndGlyphs">−30</tspan></text>
<text y="685.1" font-size="14.31" fill="#000"><tspan x="315.05" textLength="29.31" lengthAdjust="spacingAndGlyphs">−20</tspan></text>
<text y="685.1" font-size="14.31" fill="#000"><tspan x="385.94" textLength="29.31" lengthAdjust="spacingAndGlyphs">−10</tspan></text>
<text y="685.1" font-size="14.31" fill="#000"><tspan x="467.14" textLength="8.84" lengthAdjust="spacingAndGlyphs">0</tspan></text>
<text y="685.1" font-size="14.31" fill="#000"><tspan x="533.31" textLength="17.67" lengthAdjust="spacingAndGlyphs">10</tspan></text>
<text y="685.1" font-size="14.31" fill="#000"><tspan x="604.45" textLength="17.67" lengthAdjust="spacingAndGlyphs">20</tspan></text>
<text y="685.1" font-size="14.31" fill="#000"><tspan x="675.32" textLength="17.67" lengthAdjust="spacingAndGlyphs">30</tspan></text>
<text y="685.1" font-size="14.31" fill="#000"><tspan x="746.4" textLength="17.67" lengthAdjust="spacingAndGlyphs">40</tspan></text>
<text y="685.1" font-size="14.31" fill="#000"><tspan x="817.09" textLength="17.67" lengthAdjust="spacingAndGlyphs">50</tspan></text>
<text y="54.4" font-size="14.31" fill="#000"><tspan x="151.61" textLength="26.51" lengthAdjust="spacingAndGlyphs">100</tspan></text>
<text y="235.4" font-size="14.31" fill="#000"><tspan x="151.61" textLength="26.51" lengthAdjust="spacingAndGlyphs">200</tspan></text>
<text y="341.4" font-size="14.31" fill="#000"><tspan x="151.61" textLength="26.51" lengthAdjust="spacingAndGlyphs">300</tspan></text>
<text y="417.4" font-size="14.31" fill="#000"><tspan x="151.61" textLength="26.51" lengthAdjust="spacingAndGlyphs">400</tspan></text>
<text y="475.4" font-size="14.31" fill="#000"><tspan x="151.61" textLength="26.51" lengthAdjust="spacingAndGlyphs">500</tspan></text>
<text y="523.4" font-size="14.31" fill="#000"><tspan x="151.61" textLength="26.51" lengthAdjust="spacingAndGlyphs">600</tspan></text>
<text y="563.4" font-size="14.31" fill="#000"><tspan x="151.61" textLength="26.51" lengthAdjust="spacingAndGlyphs">700</tspan></text>
<text y="598.4" font-size="14.31" fill="#000"><tspan x="151.61" textLength="26.51" lengthAdjust="spacingAndGlyphs">800</tspan></text>
<text y="629.4" font-size="14.31" fill="#000"><tspan x="151.61" textLength="26.51" lengthAdjust="spacingAndGlyphs">900</tspan></text>
<text y="657.4" font-size="14.31" fill="#000"><tspan x="142.78" textLength="35.35" lengthAdjust="spacingAndGlyphs">1000</tspan></text>
<path d="M857.67 55.02 L836.53 41.68M836.53 41.68 L839.22 31.56M839.17 43.35 L841.86 33.22M854.66 116.77 L839.54 96.85M839.54 96.85 L845.62 88.32M841.43 99.34 L847.51 90.81M843.32 101.83 L846.36 97.56M852.91 165.64 L841.29 143.51M841.29 143.51 L848.69 136.09M842.74 146.27 L850.14 138.85M844.19 149.04 L847.89 145.33M850.73 206.92 L843.47 182.99M843.47 182.99 L852.13 177.1M844.37 185.98 L853.03 180.09M845.28 188.97 L853.94 183.08M848.34 242.38 L845.86 217.5M845.86 217.5 L855.5 213.4M846.17 220.61 L855.81 216.51M846.48 223.72 L856.12 219.62M847.2 273.29 L847 248.29M847 248.29 L856.97 245.09M847.02 251.42 L857 248.21M847.05 254.54 L857.02 251.34M847.07 257.67 L852.06 256.07M846.69 300.89 L847.51 275.9M847.51 275.9 L857.6 273.1M847.41 279.02 L857.5 276.23M847.3 282.15 L857.4 279.35M847.2 285.27 L857.3 282.47M847.1 288.39 L852.15 287M846.58 325.85 L847.62 300.87M846.29 348.63 L847.91 323.68M847.3 333.04 L852.39 331.81M845.88 369.57 L848.32 344.69M847.41 354.02 L852.53 352.95M845.57 388.95 L848.63 364.14M847.48 373.44 L852.63 372.5M845.47 407.01 L848.73 382.22M847.51 391.52 L852.67 390.62M845.37 423.9 L848.83 399.14M847.53 408.43 L852.7 407.57M845.93 454.83 L848.27 429.93M848.27 429.93 L858.51 427.76M847.98 433.05 L858.22 430.87M847.68 436.16 L857.93 433.98M847.39 439.27 L857.64 437.09M849.46 482.26 L844.74 457.71M844.74 457.71 L853.98 452.75M845.33 460.77 L854.57 455.82M855.43 504.27 L838.77 485.63M838.77 485.63 L844.15 476.64M840.85 487.96 L843.54 483.46M853.69 528.36 L840.51 507.13M840.51 507.13 L847.35 499.2M851.42 550.44 L842.78 526.98M842.78 526.98 L851.08 520.6M843.86 529.92 L848.01 526.72M849.35 570.42 L844.85 545.83M844.85 545.83 L854.13 540.96M845.41 548.91 L854.69 544.03M843.96 588.3 L850.24 564.1M850.24 564.1 L860.7 563.59M849.45 567.13 L859.92 566.61M840.57 603.77 L853.63 582.45M853.63 582.45 L863.79 585.01M852 585.12 L862.16 587.67M841.14 619.98 L853.06 598.01M853.06 598.01 L863.34 600.03M851.57 600.75 L861.85 602.78M846.9 643.64 L847.3 618.65M847.3 618.65 L857.35 615.68M847.25 621.77 L857.3 618.81M847.2 624.9 L857.25 621.93M847.15 628.02 L852.18 626.54M850.85 661.39 L843.35 637.54M843.35 637.54 L851.95 631.56M844.29 640.52 L848.59 637.53" stroke="#000" stroke-width="1.0" fill="none" stroke-linecap="butt"/>
<path d="M847.62 300.87 L857.48 304.41 L847.36 307.12ZM847.91 323.68 L857.69 327.45 L847.51 329.92ZM848.32 344.69 L857.97 348.78 L847.71 350.91ZM848.63 364.14 L858.17 368.46 L847.86 370.34ZM848.73 382.22 L858.23 386.62 L847.91 388.42ZM848.83 399.14 L858.3 403.62 L847.97 405.33Z" stroke="#000" stroke-width="1.0" fill="#000" stroke-linejoin="miter"/>
<g clip-path="url(#hc)" fill="none">
<ellipse cx="988.5" cy="76.5" rx="31.4" ry="26.7" stroke="#aaaaaa" stroke-width="0.55" stroke-dasharray="0.8 1.5"/>
<ellipse cx="988.5" cy="76.5" rx="62.8" ry="53.4" stroke="#aaaaaa" stroke-width="0.55" stroke-dasharray="0.8 1.5"/>
<ellipse cx="988.5" cy="76.5" rx="94.2" ry="80.1" stroke="#aaaaaa" stroke-width="0.55" stroke-dasharray="0.8 1.5"/>
<ellipse cx="988.5" cy="76.5" rx="125.6" ry="106.8" stroke="#aaaaaa" stroke-width="0.55" stroke-dasharray="0.8 1.5"/>
<ellipse cx="988.5" cy="76.5" rx="157" ry="133.5" stroke="#aaaaaa" stroke-width="0.55" stroke-dasharray="0.8 1.5"/>
<ellipse cx="988.5" cy="76.5" rx="188.4" ry="160.2" stroke="#aaaaaa" stroke-width="0.55" stroke-dasharray="0.8 1.5"/>
<ellipse cx="988.5" cy="76.5" rx="219.8" ry="186.9" stroke="#aaaaaa" stroke-width="0.55" stroke-dasharray="0.8 1.5"/>
<ellipse cx="988.5" cy="76.5" rx="251.2" ry="213.6" stroke="#aaaaaa" stroke-width="0.55" stroke-dasharray="0.8 1.5"/>
<path d="M876.5 76.5H1096.5M988.5 49.5V237.5" stroke="#444" stroke-width="1"/>
</g>
<text y="92.9" font-size="10.73" fill="#808080"><tspan x="887.62" textLength="13.25" lengthAdjust="spacingAndGlyphs">30</tspan></text>
<text y="92.9" font-size="10.73" fill="#808080"><tspan x="919.04" textLength="13.25" lengthAdjust="spacingAndGlyphs">20</tspan></text>
<text y="92.9" font-size="10.73" fill="#808080"><tspan x="950.25" textLength="13.25" lengthAdjust="spacingAndGlyphs">10</tspan></text>
<text y="92.9" font-size="10.73" fill="#808080"><tspan x="1013.05" textLength="13.25" lengthAdjust="spacingAndGlyphs">10</tspan></text>
<text y="92.9" font-size="10.73" fill="#808080"><tspan x="1044.64" textLength="13.25" lengthAdjust="spacingAndGlyphs">20</tspan></text>
<text y="92.9" font-size="10.73" fill="#808080"><tspan x="1076.02" textLength="13.25" lengthAdjust="spacingAndGlyphs">30</tspan></text>
<g clip-path="url(#hc)" fill="none" stroke-width="2.1" stroke-linejoin="round">
<path d="M1003.5 117 L1005.3 123.7 L1007.8 134.3 L1009.2 140.7 L1004.1 155.5 L1001.4 159.9 L985.6 165.8 L972.3 158.1 L969.7 155 L958.6 133.8 L953.1 124.8 L953.8 123 L968 123.3 L988.2 124 L997.7 123 L1000.4 121.1 L1001.2 112 L1001.5 108.5" stroke="#ff0000"/>
<path d="M1001.6 108.4 L1007.8 103.1 L1016.8 99.9 L1018.9 101.5 L1019.6 105.8 L1018.4 110.5 L1010.4 119 L1000.9 128 L993.5 138.6 L984 151.3 L981.9 155.5 L976.6 170.8 L968.1 195.4 L966 201.5" stroke="#0a820a"/>
<path d="M966 201.5 L964.4 207.1 L957.3 227.7 L966 225.6 L972.3 221.9 L977.1 215.6 L980 209" stroke="#bb2bbb"/>
<path d="M980 209 L981.9 203.4 L985 191.7 L987.7 175.9 L989.3 173.8 L998.3 163.4" stroke="#1f1fff"/>
</g>
<text x="961.2" y="142.5" font-size="11.4" text-anchor="middle" fill="#000" stroke="#fff" stroke-width="3" paint-order="stroke" stroke-linejoin="round">1</text>
<text x="964.8" y="126.9" font-size="11.4" text-anchor="middle" fill="#000" stroke="#fff" stroke-width="3" paint-order="stroke" stroke-linejoin="round">2</text>
<text x="1003.8" y="120.3" font-size="11.4" text-anchor="middle" fill="#000" stroke="#fff" stroke-width="3" paint-order="stroke" stroke-linejoin="round">3</text>
<text x="965.8" y="205.5" font-size="11.4" text-anchor="middle" fill="#000" stroke="#fff" stroke-width="3" paint-order="stroke" stroke-linejoin="round">6</text>
<text x="979.6" y="213.4" font-size="11.4" text-anchor="middle" fill="#000" stroke="#fff" stroke-width="3" paint-order="stroke" stroke-linejoin="round">9</text>
<circle cx="942.7" cy="119.0" r="8.6" fill="#fff" stroke="#000" stroke-width="1.5"/>
<text x="942.7" y="122.4" font-size="10" text-anchor="middle" fill="#000" stroke="#000" stroke-width="0.15" textLength="11.0" lengthAdjust="spacingAndGlyphs">RM</text>
<circle cx="1030.0" cy="143.5" r="8.6" fill="#fff" stroke="#000" stroke-width="1.5"/>
<text x="1030.0" y="146.9" font-size="10" text-anchor="middle" fill="#000" stroke="#000" stroke-width="0.15" textLength="11.0" lengthAdjust="spacingAndGlyphs">LM</text>
<rect x="876.5" y="49.5" width="220.0" height="188.0" fill="none" stroke="#000" stroke-width="1.1"/>
<text y="250.9" font-size="11.44" fill="#000"><tspan x="883.07" textLength="61.53" lengthAdjust="spacingAndGlyphs">Hodograph</tspan> <tspan x="948.14" textLength="30.6" lengthAdjust="spacingAndGlyphs">(wind</tspan> <tspan x="982.27" textLength="10.13" lengthAdjust="spacingAndGlyphs">in</tspan> <tspan x="995.93" textLength="14.32" lengthAdjust="spacingAndGlyphs">kt,</tspan> <tspan x="1013.79" textLength="35.42" lengthAdjust="spacingAndGlyphs">height</tspan> <tspan x="1052.74" textLength="10.13" lengthAdjust="spacingAndGlyphs">in</tspan> <tspan x="1066.4" textLength="21.59" lengthAdjust="spacingAndGlyphs">km)</tspan></text>
<text x="876.1" y="285.8" font-family="Liberation Mono, monospace" font-size="14.5" fill="#8f1a8f" xml:space="preserve" textLength="159.41" lengthAdjust="spacing">SRH 0-1km:      141</text>
<g font-style="italic" fill="#8f1a8f"><text x="1043.6" y="285.8" font-size="14.2" textLength="15.6" lengthAdjust="spacingAndGlyphs">m</text><text x="1059.4" y="280.5" font-size="10" font-style="normal">2</text><text x="1065.4" y="285.8" font-size="14.2" textLength="7.6" lengthAdjust="spacingAndGlyphs">s</text><text x="1073.2" y="280.5" font-size="10" font-style="normal" textLength="13.4" lengthAdjust="spacingAndGlyphs">−2</text></g>
<text x="876.1" y="302.9" font-family="Liberation Mono, monospace" font-size="14.5" fill="#000" xml:space="preserve" textLength="159.41" lengthAdjust="spacing">SRH 0-3km:      119</text>
<g font-style="italic" fill="#000"><text x="1043.6" y="302.9" font-size="14.2" textLength="15.6" lengthAdjust="spacingAndGlyphs">m</text><text x="1059.4" y="297.6" font-size="10" font-style="normal">2</text><text x="1065.4" y="302.9" font-size="14.2" textLength="7.6" lengthAdjust="spacingAndGlyphs">s</text><text x="1073.2" y="297.6" font-size="10" font-style="normal" textLength="13.4" lengthAdjust="spacingAndGlyphs">−2</text></g>
<text x="876.1" y="322" font-family="Liberation Mono, monospace" font-size="14.5" fill="#000" xml:space="preserve" textLength="201.36" lengthAdjust="spacing">SBCAPE:           0 J/kg</text>
<text x="876.1" y="339.47" font-family="Liberation Mono, monospace" font-size="14.5" fill="#000" xml:space="preserve" textLength="201.36" lengthAdjust="spacing">MLCAPE:           0 J/kg</text>
<text x="876.1" y="356.94" font-family="Liberation Mono, monospace" font-size="14.5" fill="#000" xml:space="preserve" textLength="201.36" lengthAdjust="spacing">MUCAPE:           0 J/kg</text>
<text x="876.1" y="374.41" font-family="Liberation Mono, monospace" font-size="14.5" fill="#000" xml:space="preserve" textLength="201.36" lengthAdjust="spacing">SBCIN:            0 J/kg</text>
<text x="876.1" y="391.88" font-family="Liberation Mono, monospace" font-size="14.5" fill="#000" xml:space="preserve" textLength="201.36" lengthAdjust="spacing">MLCIN:            0 J/kg</text>
<text x="876.1" y="409.35" font-family="Liberation Mono, monospace" font-size="14.5" fill="#000" xml:space="preserve" textLength="201.36" lengthAdjust="spacing">DCAPE:            0 J/kg</text>
<text x="876.1" y="426.82" font-family="Liberation Mono, monospace" font-size="14.5" fill="#cf5c2e" xml:space="preserve" textLength="184.58" lengthAdjust="spacing">SHR 200-850mb:   19 kt</text>
<text x="876.1" y="444.29" font-family="Liberation Mono, monospace" font-size="14.5" fill="#84520f" xml:space="preserve" textLength="176.19" lengthAdjust="spacing">RH 300-850mb:    38 %</text>
<text x="876.1" y="461.76" font-family="Liberation Mono, monospace" font-size="14.5" fill="#000" xml:space="preserve" textLength="184.58" lengthAdjust="spacing">PWAT:          0.18 in</text>
<path d="M1082.3 500.4 L1057 506 L1032.7 513.7 L1008.4 522.5 L988.6 532.4 L977.5 538 L968.7 544.1 L963.6 549.4 L961 566.6 L957.7 579.9 L954.4 590.9 L953.7 597.5 L955 613 L955.5 619.6 L953.7 625.6 L947.7 632.4 L944 637.2 L941.1 652.9" stroke="#2e9ab5" stroke-width="2.6" fill="none" stroke-linejoin="round" clip-path="url(#tc)"/>
<text y="526.6" font-size="11.44" fill="#000"><tspan x="902.06" textLength="21.21" lengthAdjust="spacingAndGlyphs">400</tspan></text>
<text y="570.6" font-size="11.44" fill="#000"><tspan x="901.82" textLength="21.21" lengthAdjust="spacingAndGlyphs">600</tspan></text>
<text y="614.6" font-size="11.44" fill="#000"><tspan x="901.85" textLength="21.21" lengthAdjust="spacingAndGlyphs">800</tspan></text>
<text y="656.3" font-size="11.44" fill="#000"><tspan x="881.86" textLength="21.21" lengthAdjust="spacingAndGlyphs">260</tspan></text>
<text y="656.3" font-size="11.44" fill="#000"><tspan x="945.86" textLength="21.21" lengthAdjust="spacingAndGlyphs">280</tspan></text>
<text y="656.3" font-size="11.44" fill="#000"><tspan x="1008.84" textLength="21.21" lengthAdjust="spacingAndGlyphs">300</tspan></text>
<text y="656.3" font-size="11.44" fill="#000"><tspan x="1071.84" textLength="21.21" lengthAdjust="spacingAndGlyphs">320</tspan></text>
<path d="M892.5 522.5h5M892.5 566.5h5M892.5 610.5h5M892.5 665.5v-5M956.5 665.5v-5M1019.5 665.5v-5M1082.5 665.5v-5" stroke="#000" stroke-width="1.1" fill="none"/>
<rect x="892.5" y="500.5" width="204.0" height="165.0" fill="none" stroke="#000" stroke-width="1.1"/>
<text y="678.3" font-size="11.44" fill="#000"><tspan x="905.22" textLength="58.91" lengthAdjust="spacingAndGlyphs">Equivalent</tspan> <tspan x="967.66" textLength="20.98" lengthAdjust="spacingAndGlyphs">Pot.</tspan> <tspan x="992.18" textLength="70.38" lengthAdjust="spacingAndGlyphs">Temperature</tspan> <tspan x="1066.09" textLength="15.96" lengthAdjust="spacingAndGlyphs">(K)</tspan></text>
<text transform="translate(884.3 1166) rotate(-90)" y="0" font-size="11.44" fill="#000"><tspan x="543.09" textLength="47.43" lengthAdjust="spacingAndGlyphs">Pressure</tspan> <tspan x="594.05" textLength="28.72" lengthAdjust="spacingAndGlyphs">(hPa)</tspan></text>
<rect x="37" y="49.4" width="1.05" height="2.3" fill="#808080"/>
<rect x="35.9" y="104.1" width="2.15" height="5.6" fill="#808080"/>
<rect x="37" y="151" width="1.05" height="6.4" fill="#808080"/>
<rect x="32.8" y="285" width="5.25" height="6.8" fill="#808080"/>
<rect x="32" y="310.1" width="6.05" height="6.9" fill="#808080"/>
<rect x="34.8" y="332.9" width="3.25" height="7" fill="#808080"/>
<rect x="38.05" y="353.8" width="0.85" height="7.2" fill="#f2f200"/>
<rect x="38.05" y="373.1" width="4.95" height="6.6" fill="#fad71e"/>
<rect x="38.05" y="391.2" width="4.95" height="6.7" fill="#fad71e"/>
<rect x="38.05" y="407.9" width="0.85" height="6.9" fill="#f2f200"/>
<rect x="35" y="424" width="3.05" height="6.9" fill="#808080"/>
<rect x="29.1" y="439.2" width="8.95" height="6.6" fill="#808080"/>
<rect x="26.1" y="453.1" width="11.95" height="6.6" fill="#808080"/>
<rect x="25" y="467" width="13.05" height="6" fill="#808080"/>
<rect x="27" y="480.2" width="11.05" height="5.6" fill="#808080"/>
<rect x="33" y="492.2" width="5.05" height="5.5" fill="#808080"/>
<rect x="38.05" y="515" width="6.95" height="5.9" fill="#fdd020"/>
<rect x="38.05" y="525.2" width="12.95" height="6.6" fill="#fdb030"/>
<rect x="38.05" y="536" width="16.85" height="5.8" fill="#fba436"/>
<rect x="38.05" y="545" width="19.85" height="6.6" fill="#f79540"/>
<rect x="38.05" y="555.2" width="19.85" height="6.4" fill="#f79540"/>
<rect x="38.05" y="564.2" width="18.85" height="6.6" fill="#f89a3c"/>
<rect x="38.05" y="573.8" width="15.95" height="6" fill="#fba436"/>
<rect x="38.05" y="582.2" width="14.95" height="5.6" fill="#fdaa33"/>
<rect x="38.05" y="590.3" width="13.85" height="6.3" fill="#fdb030"/>
<rect x="38.05" y="598.3" width="11.85" height="6.2" fill="#fdb52c"/>
<rect x="38.05" y="605.8" width="10.95" height="6" fill="#fdbb28"/>
<rect x="38.05" y="613.1" width="6.95" height="6.6" fill="#fdcc20"/>
<rect x="38.05" y="621.3" width="4.95" height="5.4" fill="#f9e01c"/>
<rect x="38.05" y="628.1" width="1.65" height="6.6" fill="#f2f200"/>
<rect x="35" y="642" width="3.05" height="5.9" fill="#808080"/>
<path d="M23.2 574.4H98.7" stroke="#ff0000" stroke-width="3" stroke-dasharray="8.3 2.9" fill="none"/>
<path d="M23.2 604.5H98.7" stroke="#ff0000" stroke-width="3" stroke-dasharray="8.3 2.9" fill="none"/>
<text y="569" font-size="11.44" font-weight="bold" fill="#ff0000"><tspan x="73.38" textLength="26.4" lengthAdjust="spacingAndGlyphs">DGZ</tspan></text>
<text y="617.4" font-size="11.44" font-weight="bold" fill="#ff0000"><tspan x="73.38" textLength="26.4" lengthAdjust="spacingAndGlyphs">DGZ</tspan></text>
<path d="M38.4 665.4v5.3M69.5 665.4v5.3M100.4 665.4v5.3" stroke="#000" stroke-width="1.1" fill="none"/>
<text y="682" font-size="11.44" fill="#000"><tspan x="35.77" textLength="7.07" lengthAdjust="spacingAndGlyphs">0</tspan></text>
<text y="682" font-size="11.44" fill="#000"><tspan x="60.83" textLength="16.38" lengthAdjust="spacingAndGlyphs">−1</tspan></text>
<text y="682" font-size="11.44" fill="#000"><tspan x="91.78" textLength="16.38" lengthAdjust="spacingAndGlyphs">−2</tspan></text>
<text y="703.2" font-size="14.31" fill="#000"><tspan x="22.72" textLength="50.33" lengthAdjust="spacingAndGlyphs">Omega</tspan> <tspan x="77.47" textLength="39.01" lengthAdjust="spacingAndGlyphs">(Pa/s)</tspan></text>
<rect x="42.6" y="63.5" width="127.8" height="96.8" rx="2.6" fill="#fff" fill-opacity="0.8" stroke="#cccccc" stroke-width="1.1"/>
<path d="M46.7 72.3H70.1" stroke="#2f8f2f" stroke-width="1.05" stroke-dasharray="1.05 1.75"/>
<path d="M46.7 87.8H70.1" stroke="#db9292" stroke-width="0.9"/>
<path d="M46.7 103.6H70.1" stroke="#9e9ee4" stroke-width="0.85"/>
<path d="M46.7 119.5H70.1" stroke="#0000ff" stroke-width="1.05"/>
<path d="M46.0 134.5H70.8" stroke="#009900" stroke-width="3"/>
<path d="M46.0 150.3H70.8" stroke="#ff0000" stroke-width="3"/>
<text y="75.8" font-size="11.44" fill="#000"><tspan x="77.97" textLength="21.75" lengthAdjust="spacingAndGlyphs">Sat.</tspan> <tspan x="103.25" textLength="22.78" lengthAdjust="spacingAndGlyphs">Mix.</tspan> <tspan x="129.56" textLength="28.52" lengthAdjust="spacingAndGlyphs">Ratio</tspan></text>
<text y="91.3" font-size="11.44" fill="#000"><tspan x="77.61" textLength="19.7" lengthAdjust="spacingAndGlyphs">Dry</tspan> <tspan x="100.84" textLength="48.36" lengthAdjust="spacingAndGlyphs">Adiabats</tspan></text>
<text y="107.1" font-size="11.44" fill="#000"><tspan x="77.61" textLength="87.79" lengthAdjust="spacingAndGlyphs">Pseudoadiabats</tspan></text>
<text y="123" font-size="11.44" fill="#000"><tspan x="78.33" textLength="45.76" lengthAdjust="spacingAndGlyphs">Wetbulb</tspan></text>
<text y="138" font-size="11.44" fill="#000"><tspan x="77.61" textLength="52.82" lengthAdjust="spacingAndGlyphs">Dewpoint</tspan></text>
<text y="153.8" font-size="11.44" fill="#000"><tspan x="78.73" textLength="70.38" lengthAdjust="spacingAndGlyphs">Temperature</tspan></text>
<rect x="0" y="0" width="1134" height="1" fill="#a0a0a0"/><rect x="0" y="0" width="1" height="748" fill="#a0a0a0"/>
<rect x="1" y="1" width="1133" height="1" fill="#696969"/><rect x="1" y="1" width="1" height="747" fill="#696969"/>
<rect x="1132" y="1" width="1" height="746" fill="#e3e3e3"/><rect x="1" y="746" width="1132" height="1" fill="#e3e3e3"/>
<rect x="1133" y="0" width="1" height="748" fill="#fff"/><rect x="0" y="747" width="1134" height="1" fill="#fff"/>
</svg>
</body></html>
